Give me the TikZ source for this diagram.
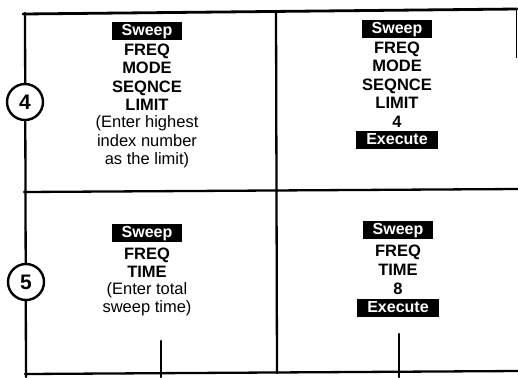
\documentclass[tikz,border=0pt]{standalone}
\usepackage{fontspec}
\setmainfont{Liberation Sans}
\begin{document}
\begin{tikzpicture}[x=1bp,y=-1bp,
  frame/.style={line width=2.3bp,line cap=round},
  keytext/.style={font=\bfseries\fontsize{16.5bp}{18bp}\selectfont,inner sep=0pt,text height=11.8bp,text depth=0pt},
  notetext/.style={font=\fontsize{16.5bp}{18bp}\selectfont,inner sep=0pt,text height=11.8bp,text depth=3.4bp},
  softkey/.style={fill=black,text=white,font=\bfseries\fontsize{16bp}{18bp}\selectfont,inner xsep=10bp,inner ysep=0pt,text height=12bp,text depth=3.5bp,minimum height=18bp},
  stepcirc/.style={circle,draw,line width=2.4bp,fill=white,minimum size=36bp,inner sep=0pt,font=\bfseries\fontsize{21bp}{22bp}\selectfont}]
\useasboundingbox (0,0) rectangle (518,377);
% frame
\draw[frame,line width=2.8bp] (23,14) -- (517,9);
\draw[frame] (25,13) -- (26,377);
\draw[frame] (276,11) -- (277,373);
\draw[frame] (24,192) -- (518,189);
\draw[frame] (25,374) -- (518,371);
\draw[line width=0.8bp] (516,9) -- (516,58);
% step circles
\node[stepcirc] (s4) at (25,102) {4};
\node[stepcirc] (s5) at (26,282) {5};
% step 4 left
\node[softkey] (a1) at (147,31) {Sweep};
\node[keytext] (a2) at (147,49.5) {FREQ};
\node[keytext] (a3) at (147,68) {MODE};
\node[keytext] (a4) at (147,86.5) {SEQNCE};
\node[keytext] (a5) at (147,105) {LIMIT};
\node[notetext] (a6) at (147,123.5) {(Enter highest};
\node[notetext] (a7) at (147,142) {index number};
\node[notetext] (a8) at (147,160.5) {as the limit)};
% step 4 right
\node[softkey] (b1) at (397,29) {Sweep};
\node[keytext] (b2) at (397,47.5) {FREQ};
\node[keytext] (b3) at (397,66) {MODE};
\node[keytext] (b4) at (397,84.5) {SEQNCE};
\node[keytext] (b5) at (397,103) {LIMIT};
\node[keytext] (b6) at (397,121.5) {4};
\node[softkey] (b7) at (397,140) {Execute};
% step 5 left
\node[softkey] (c1) at (147,233) {Sweep};
\node[keytext] (c2) at (147,254) {FREQ};
\node[keytext] (c3) at (147,272) {TIME};
\node[notetext] (c4) at (147,290) {(Enter total};
\node[notetext] (c5) at (147,308) {sweep time)};
% step 5 right
\node[softkey] (d1) at (398,230) {Sweep};
\node[keytext] (d2) at (398,251) {FREQ};
\node[keytext] (d3) at (398,270) {TIME};
\node[keytext] (d4) at (398,289) {8};
\node[softkey] (d5) at (398,308) {Execute};
% connectors leaving the bottom
\coordinate (c6) at (161,341);
\coordinate (c7) at (161,377);
\coordinate (d6) at (399,334);
\coordinate (d7) at (399,377);
\draw[frame] (c6) -- (c7);
\draw[frame] (d6) -- (d7);
\end{tikzpicture}
\end{document}
